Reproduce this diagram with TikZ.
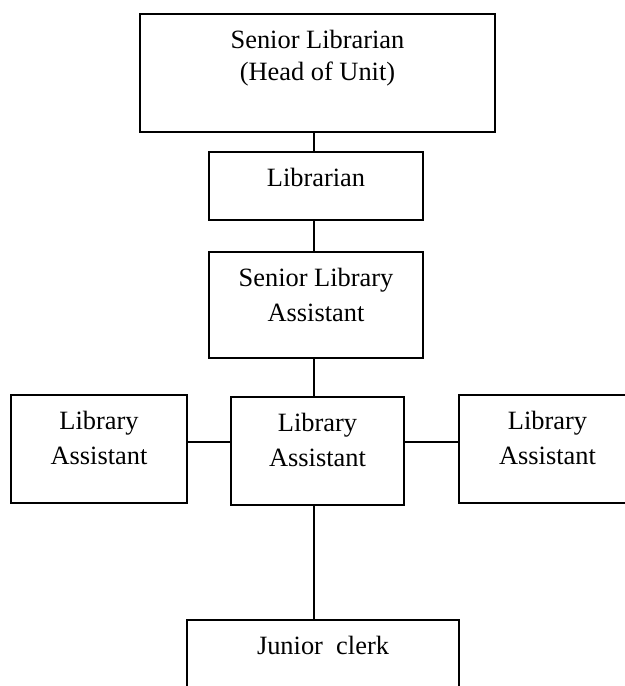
\documentclass[tikz,border=0pt]{standalone}
\usepackage{fontspec}
\setmainfont{Liberation Serif}
\usepackage{tikz}
\usetikzlibrary{positioning}

\begin{document}
\begin{tikzpicture}[x=0.5pt, y=-0.5pt,
    post/.style={draw, line width=1pt, inner sep=0pt},
    lbl/.style={inner sep=0pt, align=center, font=\fontsize{13.2}{17.5}\selectfont},
    link/.style={line width=1pt}]
    \clip (0,0) rectangle (625,686);

    % boxes
    \node[post, minimum width=177.5pt, minimum height=59pt] (head) at (317.5,73) {};
    \node[post, minimum width=107pt, minimum height=34pt] (lib) at (316,186) {};
    \node[post, minimum width=107pt, minimum height=53pt] (sla) at (316,305) {};
    \node[post, minimum width=88pt, minimum height=54pt] (laleft) at (99,449) {};
    \node[post, minimum width=86.5pt, minimum height=54pt] (lamid) at (317.5,451) {};
    \node[post, minimum width=88.5pt, minimum height=54pt] (laright) at (547.5,449) {};
    \node[post, minimum width=136pt, minimum height=50pt] (clerk) at (323,670) {};

    % texts
    \node[lbl, below=8.5pt of head.north] (headtxt) {Senior Librarian\\[-1.5pt](Head of Unit)};
    \node[lbl, below=8.5pt of lib.north] (libtxt) {Librarian};
    \node[lbl, below=8.5pt of sla.north] (slatxt) {Senior Library\\Assistant};
    \node[lbl, below=8.5pt of laleft.north] (lelefttxt) {Library\\Assistant};
    \node[lbl, below=8.5pt of lamid.north] (lamidtxt) {Library\\Assistant};
    \node[lbl, below=8.5pt of laright.north] (larighttxt) {Library\\Assistant};
    \node[lbl, below=8.5pt of clerk.north] (clerktxt) {Junior\ \ clerk};

    % connectors
    \coordinate (spine) at (314,0);
    \coordinate (rung) at (0,442);
    \draw[link] (head.south -| spine) -- (lib.north -| spine);
    \draw[link] (lib.south -| spine) -- (sla.north -| spine);
    \draw[link] (sla.south -| spine) -- (lamid.north -| spine);
    \draw[link] (lamid.south -| spine) -- (clerk.north -| spine);
    \draw[link] (laleft.east |- rung) -- (lamid.west |- rung);
    \draw[link] (lamid.east |- rung) -- (laright.west |- rung);
\end{tikzpicture}
\end{document}
